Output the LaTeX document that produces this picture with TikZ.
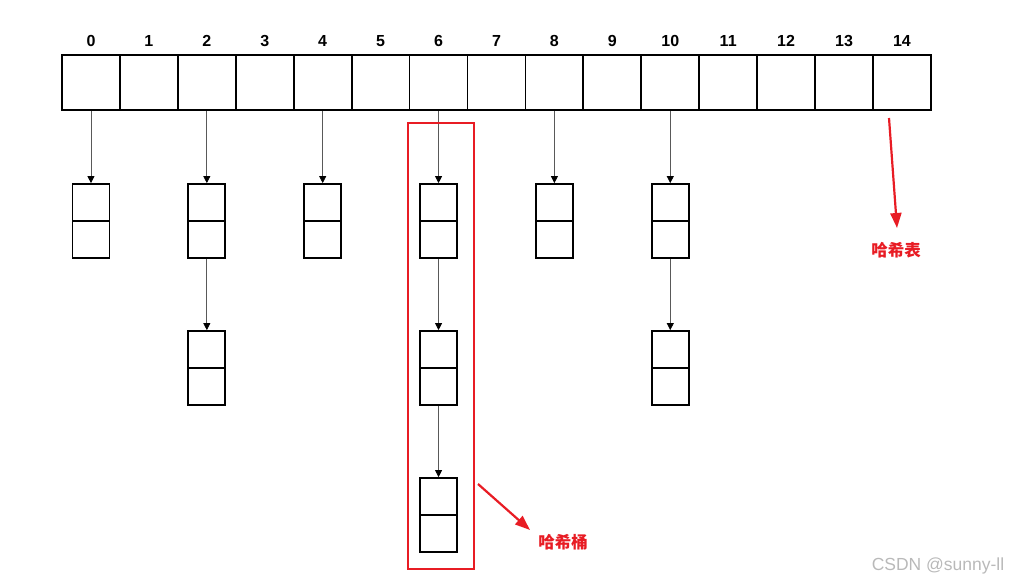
\documentclass[tikz,border=0pt]{standalone}
\usepackage{fontspec}
\setmainfont{Liberation Sans}
\newfontfamily\cjk{Noto Sans CJK SC}
\usetikzlibrary{arrows.meta}
\definecolor{hashred}{RGB}{232,28,36}

\begin{document}
\begin{tikzpicture}[x=1pt, y=-1pt, font=\bfseries\fontsize{16}{18}\selectfont,
    cell/.style={draw, line width=1.8pt, minimum width=57.93pt, minimum height=55pt, inner sep=0pt},
    slot/.style={draw, line width=1.8pt, minimum width=37pt, minimum height=37pt, inner sep=0pt},
    link/.style={black!65, line width=0.8pt, -{Triangle[color=black, width=7pt, length=7pt]}},
    note/.style={hashred, line width=2.2pt, -{Triangle[width=11pt, length=15pt]}}]
  \useasboundingbox (0,0) rectangle (1011,584);
  % hash table cells and indices
  \foreach \i in {0,...,14} {
    \node[cell] (t\i) at ({62+57.93*(\i+0.5)}, 82.5) {};
    \node (l\i) at ({62+57.93*(\i+0.5)}, 41) {\i};
  }
  % buckets hanging below the cells
  \foreach \c/\n in {0/1, 2/2, 4/1, 6/3, 8/1, 10/2} {
    \foreach \r in {1,...,\n} {
      \node[slot] (b\c-\r u) at ({62+57.93*(\c+0.5)}, {202.5+147*(\r-1)}) {};
      \node[slot] (b\c-\r l) at ({62+57.93*(\c+0.5)}, {239.5+147*(\r-1)}) {};
      \ifnum\r=1
        \draw[link] (t\c.south) -- (b\c-\r u.north);
      \else
        \pgfmathtruncatemacro\p{\r-1}
        \draw[link] (b\c-\p l.south) -- (b\c-\r u.north);
      \fi
    }
  }
  % red marks
  \draw[hashred, line width=1.5pt] (408,123) rectangle (474,569);
  \coordinate (s1) at (889,118);
  \coordinate (s2) at (478,484);
  \node[hashred, font=\cjk\bfseries\fontsize{16.5}{18}\selectfont] (tab) at (896,250) {哈希表};
  \node[hashred, font=\cjk\bfseries\fontsize{16.5}{18}\selectfont] (bkt) at (563,542) {哈希桶};
  \draw[note] (s1) -- (897,228);
  \draw[note] (s2) -- (530,530);
  \node[gray!55, font=\fontsize{17.5}{19}\selectfont] (wm) at (938,566) {CSDN @sunny-ll};
\end{tikzpicture}
\end{document}
